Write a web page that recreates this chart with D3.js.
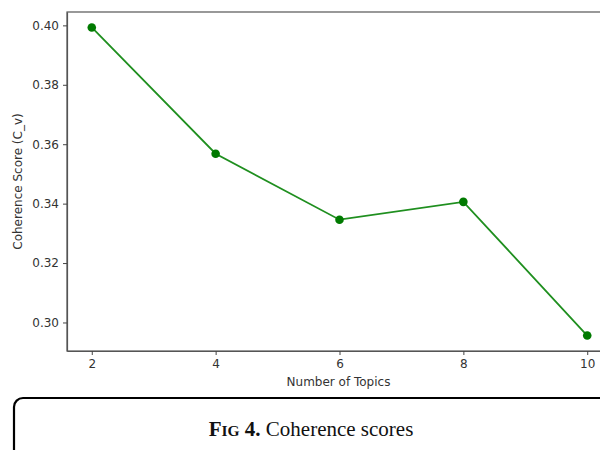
<!DOCTYPE html>
<html>
<head>
<meta charset="utf-8">
<script src="https://cdn.jsdelivr.net/npm/d3@7"></script>
<style>
  body { margin: 0; background: #fff; }
  svg { display: block; }
</style>
</head>
<body>
<div id="chart"></div>
<script>
// data
const topics = [2, 4, 6, 8, 10];
const coherence = [0.3993, 0.3568, 0.3346, 0.3406, 0.2956];
const yTicks = [0.30, 0.32, 0.34, 0.36, 0.38, 0.40];
const xTicks = [2, 4, 6, 8, 10];

const width = 600, height = 450;
const margin = {top: 12, right: -12, bottom: 99, left: 67};

let svg = d3.select("#chart")
  .append("svg")
  .attr("width", width)
  .attr("height", height);

let x = d3.scaleLinear()
  .domain([1.6, 10.4])
  .range([margin.left, width - margin.right]);

let y = d3.scaleLinear()
  .domain([0.2904, 0.4045])
  .range([height - margin.bottom, margin.top]);

// frame
svg.append("rect")
  .attr("x", margin.left)
  .attr("y", margin.top)
  .attr("width", width - margin.right - margin.left)
  .attr("height", height - margin.bottom - margin.top)
  .attr("fill", "none")
  .attr("stroke", "#555")
  .attr("stroke-width", 1.2);

let xAxis = svg.append("g")
  .attr("transform", `translate(0, ${height - margin.bottom})`)
  .call(d3.axisBottom(x).tickValues(xTicks).tickSize(4).tickPadding(4).tickSizeOuter(0));

let yAxis = svg.append("g")
  .attr("transform", `translate(${margin.left}, 0)`)
  .call(d3.axisLeft(y).tickValues(yTicks).tickFormat(d3.format(".2f")).tickSize(4).tickPadding(4).tickSizeOuter(0));

[xAxis, yAxis].forEach(a => {
  a.select(".domain").attr("stroke", "#555").attr("stroke-width", 1.2);
  a.selectAll(".tick line").attr("stroke", "#444");
  a.selectAll(".tick text")
    .attr("fill", "#333")
    .style("font-family", "DejaVu Sans")
    .style("font-size", "12px");
});

svg.append("text")
  .attr("x", (margin.left + 600) / 2 + 5)
  .attr("y", 386)
  .attr("text-anchor", "middle")
  .attr("fill", "#333")
  .style("font-family", "DejaVu Sans")
  .style("font-size", "12px")
  .text("Number of Topics");

svg.append("text")
  .attr("transform", `translate(22, ${(margin.top + height - margin.bottom) / 2}) rotate(-90)`)
  .attr("text-anchor", "middle")
  .attr("fill", "#333")
  .style("font-family", "DejaVu Sans")
  .style("font-size", "12px")
  .text("Coherence Score (C_v)");

let pts = topics.map((t, i) => ({t: t, v: coherence[i]}));

let line = d3.line()
  .x(d => x(d.t))
  .y(d => y(d.v));

svg.append("path")
  .datum(pts)
  .attr("d", line)
  .attr("fill", "none")
  .attr("stroke", "#1f8f1f")
  .attr("stroke-width", 1.8);

svg.selectAll("circle")
  .data(pts)
  .enter()
  .append("circle")
  .attr("cx", d => x(d.t))
  .attr("cy", d => y(d.v))
  .attr("r", 4.3)
  .attr("fill", "#007a00");

// caption box
svg.append("rect")
  .attr("x", 14)
  .attr("y", 398)
  .attr("width", 640)
  .attr("height", 100)
  .attr("rx", 9)
  .attr("fill", "none")
  .attr("stroke", "#000")
  .attr("stroke-width", 2.2);

let cap = svg.append("text")
  .attr("x", 311)
  .attr("y", 436)
  .attr("text-anchor", "middle")
  .style("font-family", "Liberation Serif")
  .style("font-size", "21px")
  .attr("fill", "#111");
cap.append("tspan").attr("font-weight", "bold").text("F");
cap.append("tspan").attr("font-weight", "bold").style("font-size", "15.5px").text("IG");
cap.append("tspan").attr("font-weight", "bold").text(" 4.");
cap.append("tspan").text(" Coherence scores");
</script>
</body>
</html>
